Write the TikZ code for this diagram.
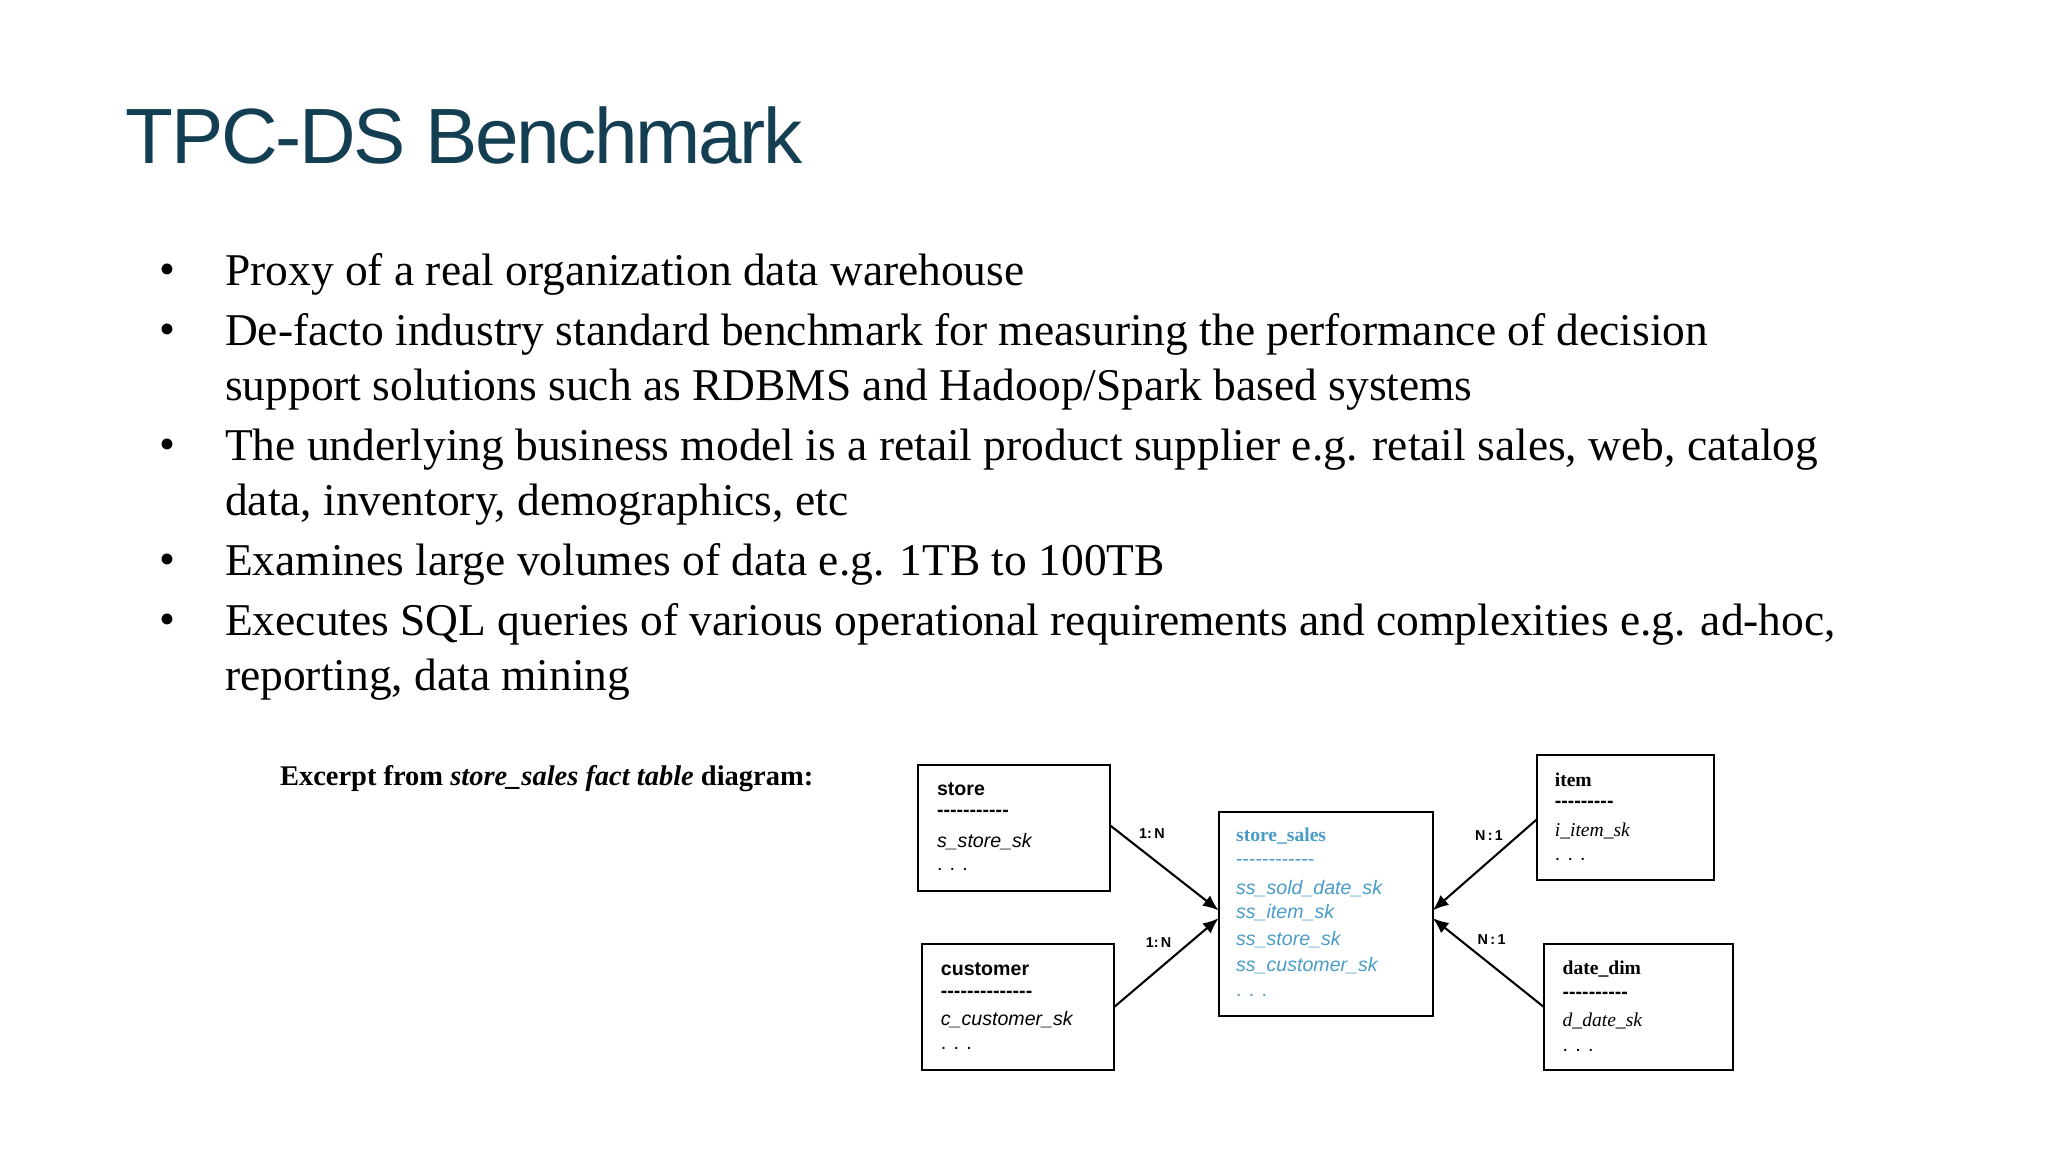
\documentclass[tikz,border=0pt]{standalone}
\usepackage{fontspec}
\setmainfont{Liberation Serif}
\newfontfamily\sans{Liberation Sans}
\newfontfamily\sanstight{Liberation Sans}[LetterSpace=-3]
\usetikzlibrary{arrows.meta}
\definecolor{titlec}{HTML}{143F52}
\definecolor{ssblue}{HTML}{4A9CC8}
\begin{document}
\begin{tikzpicture}[x=0.5pt,y=-0.5pt,
  bul/.style={anchor=west,inner sep=0pt,font=\fontsize{17.4}{20}\selectfont},
  tb/.style={draw,line width=0.8pt},
  t/.style={anchor=west,inner sep=0pt,font=\sans\fontsize{7.5}{8}\selectfont},
  tt/.style={t,font=\sans\bfseries\fontsize{7.5}{8}\selectfont},
  ti/.style={t,font=\sans\itshape\fontsize{7.5}{8}\selectfont},
  rel/.style={font=\sans\bfseries\fontsize{5.5}{6}\selectfont,inner sep=0pt},
  arr/.style={line width=0.8pt,-{Latex[length=6pt,width=5pt]}}]
\useasboundingbox (0,0) rectangle (1568,882);
\node[anchor=west,inner sep=0pt,text=titlec,font=\sanstight\fontsize{30}{34}\selectfont] (title) at (96,104) {TPC-DS Benchmark};
\foreach \y in {210,256,344,432,478} \node[bul] at (122,\y) {•};
\node[bul] (b1) at (172,210) {Proxy of a real organization data warehouse};
\node[bul] (b2) at (172,256) {De-facto industry standard benchmark for measuring the performance of decision};
\node[bul] (b2b) at (172,298) {support solutions such as RDBMS and Hadoop/Spark based systems};
\node[bul] (b3) at (172,344) {The underlying business model is a retail product supplier e.g. retail sales, web, catalog};
\node[bul] (b3b) at (172,386) {data, inventory, demographics, etc};
\node[bul] (b4) at (172,432) {Examines large volumes of data e.g. 1TB to 100TB};
\node[bul] (b5) at (172,478) {Executes SQL queries of various operational requirements and complexities e.g. ad-hoc,};
\node[bul] (b5b) at (172,520) {reporting, data mining};
\node[anchor=west,inner sep=0pt,font=\bfseries\fontsize{10.9}{12}\selectfont] (exc) at (214,596) {Excerpt from \textit{store\_sales fact table} diagram:};
% boxes
\draw[tb] (703,586) rectangle (850,682);
\node[tt] at (717,604) {store};
\node[tt] at (717,623) {-----------};
\node[ti] at (717,644) {s\_store\_sk};
\node[t] at (717,666) {. . .};
\draw[tb] (706,723) rectangle (853,819);
\node[tt] at (720,742) {customer};
\node[tt] at (720,761) {--------------};
\node[ti] at (720,781) {c\_customer\_sk};
\node[t] at (720,803) {. . .};
\draw[tb] (933,622) rectangle (1097,778);
\node[t,text=ssblue,font=\bfseries\fontsize{7.5}{8}\selectfont] at (946,640) {store\_sales};
\node[t,text=ssblue] at (946,660) {------------};
\node[ti,text=ssblue] at (946,680) {ss\_sold\_date\_sk};
\node[ti,text=ssblue] at (946,699) {ss\_item\_sk};
\node[ti,text=ssblue] at (946,719) {ss\_store\_sk};
\node[ti,text=ssblue] at (946,739) {ss\_customer\_sk};
\node[t,text=ssblue] at (946,762) {. . .};
\draw[tb] (1177,578) rectangle (1312,674);
\node[tt,font=\bfseries\fontsize{7.5}{8}\selectfont] at (1190,597) {item};
\node[tt] at (1190,616) {---------};
\node[ti,font=\itshape\fontsize{7.5}{8}\selectfont] at (1190,636) {i\_item\_sk};
\node[t] at (1190,658) {. . .};
\draw[tb] (1182,723) rectangle (1327,819);
\node[tt,font=\bfseries\fontsize{7.5}{8}\selectfont] at (1196,742) {date\_dim};
\node[tt] at (1196,762) {----------};
\node[ti,font=\itshape\fontsize{7.5}{8}\selectfont] at (1196,782) {d\_date\_sk};
\node[t] at (1196,804) {. . .};
% named anchors
\coordinate (s) at (850,632); \coordinate (c) at (853,771);
\coordinate (i) at (1177,627); \coordinate (d) at (1182,771);
\coordinate (fl1) at (933,697); \coordinate (fl2) at (933,703);
\coordinate (fr1) at (1097,697); \coordinate (fr2) at (1097,703);
\draw[arr] (s) -- (fl1);
\draw[arr] (c) -- (fl2);
\draw[arr] (i) -- (fr1);
\draw[arr] (d) -- (fr2);
\node[rel] at (882,638) {1:\,N};
\node[rel] at (887,722) {1:\,N};
\node[rel] at (1140,640) {N\,:\,1};
\node[rel] at (1142,719) {N\,:\,1};
\end{tikzpicture}
\end{document}
